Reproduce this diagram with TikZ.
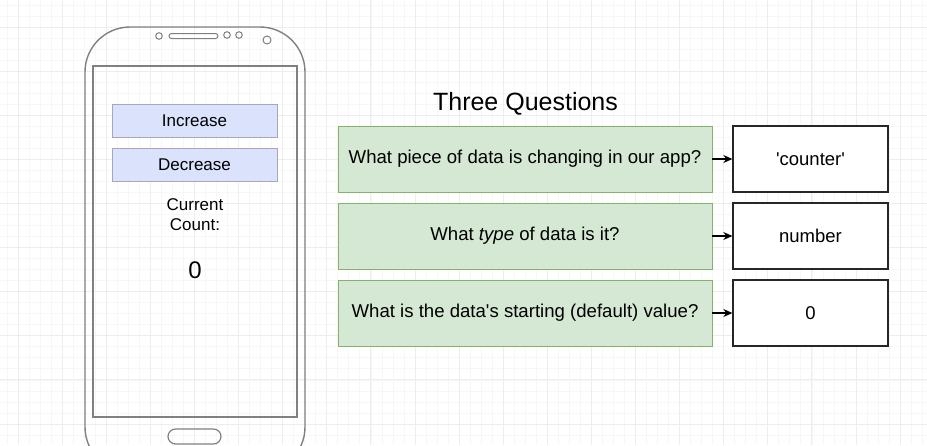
\documentclass[tikz,border=0pt]{standalone}
\usepackage{fontspec}
\setmainfont{Liberation Sans}
\usetikzlibrary{arrows.meta}

\begin{document}
\begin{tikzpicture}[x=1pt,y=-1pt,>={Stealth[length=9pt,width=8pt]},
    minorgrid/.style={draw=black!3,line width=0.6pt},
    majorgrid/.style={draw=black!7,line width=0.8pt},
    phone/.style={draw=black!50,line width=1.4pt},
    btn/.style={draw=blue!30!black!35,fill={rgb,255:red,218;green,226;blue,252},line width=0.8pt,
        minimum width=165pt,minimum height=33pt,font=\fontsize{17}{20}\selectfont},
    question/.style={draw={rgb,255:red,130;green,179;blue,102},fill={rgb,255:red,213;green,232;blue,212},
        line width=0.8pt,minimum width=374pt,minimum height=66pt,font=\fontsize{18.6}{22}\selectfont},
    answer/.style={draw=black!85,fill=white,line width=1.3pt,
        minimum width=155pt,minimum height=66pt,font=\fontsize{18.5}{22}\selectfont}]
    \useasboundingbox (0,0) rectangle (927,445);
    \clip (0,0) rectangle (927,445);

    % background grid
    \foreach \i in {-4,...,84}
        \draw[minorgrid] ({18+11.025*\i},0) -- ++(0,445);
    \foreach \j in {-3,...,40}
        \draw[minorgrid] (0,{27+11.025*\j}) -- ++(927,0);
    \foreach \i in {-1,...,21}
        \draw[majorgrid] ({18+44.1*\i},0) -- ++(0,445);
    \foreach \j in {-1,...,10}
        \draw[majorgrid] (0,{27+44.1*\j}) -- ++(927,0);

    % phone body
    \draw[phone,rounded corners=45pt] (85,27) rectangle (305,472);
    \draw[phone,line width=1.2pt] (93,66) rectangle (297,417);
    \draw[phone,line width=1pt] (159,36) circle (3.3);
    \draw[phone,line width=1pt,rounded corners=2.5pt] (169,33.5) rectangle (218,38.5);
    \draw[phone,line width=1pt] (227,35) circle (3.3);
    \draw[phone,line width=1pt] (239,35) circle (3.3);
    \draw[phone,line width=1pt] (267,40) circle (4);
    \draw[phone,line width=1.2pt,rounded corners=7.5pt] (168,429) rectangle (221,444);

    % screen content
    \node[btn] (inc) at (194.5,120.5) {Increase};
    \node[btn] (dec) at (194.5,164.5) {Decrease};
    \node[align=center,font=\fontsize{17}{20}\selectfont] (label) at (195,215) {Current\\Count:};
    \node[font=\fontsize{24}{26}\selectfont] (count) at (195,270) {0};

    % questions
    \node[font=\fontsize{25}{28}\selectfont] (title) at (525.5,104) {Three Questions};
    \node[question] (q1) at (525,159) {What piece of data is changing in our app?};
    \node[question] (q2) at (525,236) {What \textit{type} of data is it?};
    \node[question] (q3) at (525,313) {What is the data\textquotesingle s starting (default) value?};

    \node[answer] (a1) at (810.5,159) {\textquotesingle counter\textquotesingle};
    \node[answer] (a2) at (810.5,236) {number};
    \node[answer] (a3) at (810.5,313) {0};

    \foreach \k in {1,2,3}
        \draw[->,line width=1.2pt] (q\k) -- (a\k);
\end{tikzpicture}
\end{document}
